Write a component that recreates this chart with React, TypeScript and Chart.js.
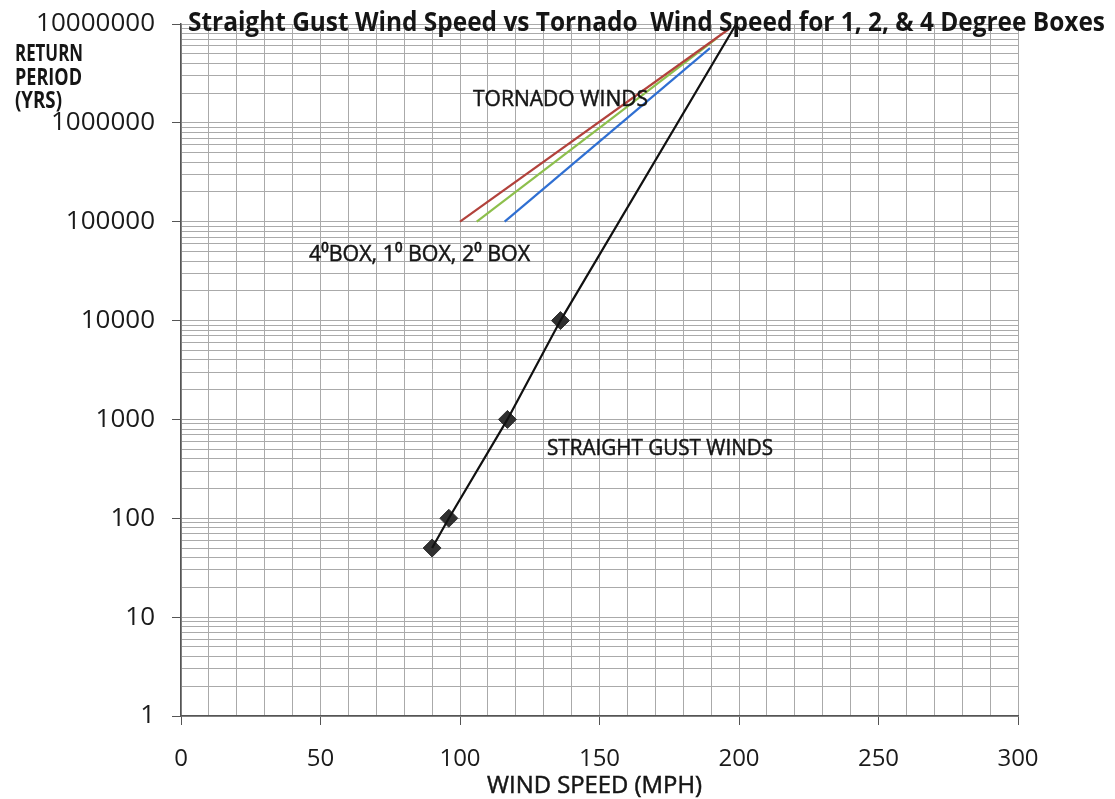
import React, { useEffect, useRef } from "react";
import { Chart, registerables } from "chart.js";

Chart.register(...registerables);

// ---- data ----
const gustSpeeds = [90, 96, 117, 136];
const gustPeriods = [50, 100, 1000, 10000];
const gustLineSpeeds = [90, 96, 117, 136, 199];
const gustLinePeriods = [50, 100, 1000, 10000, 10000000];

const tornado4Speeds = [100, 196.4];
const tornado4Periods = [100000, 8900000];
const tornado1Speeds = [106, 192.1];
const tornado1Periods = [100000, 7200000];
const tornado2Speeds = [116, 189.6];
const tornado2Periods = [100000, 5700000];

const xTickLabels = ["0", "50", "100", "150", "200", "250", "300"];
const yTickValues = [1, 10, 100, 1000, 10000, 100000, 1000000, 10000000];
const yTickLabels = ["1", "10", "100", "1000", "10000", "100000", "1000000", "10000000"];

const titleText = "Straight Gust Wind Speed vs Tornado  Wind Speed for 1, 2, & 4 Degree Boxes";
const yTitleLines = ["RETURN", "PERIOD", "(YRS)"];
const xTitleText = "WIND SPEED (MPH)";
const tornadoLabel = "TORNADO WINDS";
const boxLabel = "4\u2070BOX, 1\u2070 BOX, 2\u2070 BOX";
const gustLabel = "STRAIGHT GUST WINDS";

const FONT = '"Open Sans", "Noto Sans", "DejaVu Sans", sans-serif';

const pts = (xs: number[], ys: number[]) => xs.map((x, i) => ({ x, y: ys[i] }));

function drawFitted(
  ctx: CanvasRenderingContext2D,
  text: string,
  left: number,
  baseline: number,
  cap: number,
  width: number,
  bold: boolean,
  color = "#151515"
) {
  const size = cap / 0.714;
  ctx.save();
  ctx.font = `${bold ? "bold " : ""}${size}px ${FONT}`;
  ctx.fillStyle = color;
  ctx.textBaseline = "alphabetic";
  ctx.textAlign = "left";
  const w = ctx.measureText(text).width;
  ctx.translate(left, baseline);
  ctx.scale(width / w, 1);
  ctx.fillText(text, 0, 0);
  if (!bold) {
    ctx.lineWidth = 0.5;
    ctx.strokeStyle = color;
    ctx.strokeText(text, 0, 0);
  }
  ctx.restore();
}

const textPlugin = {
  id: "textOverlay",
  afterDraw(chart: any) {
    const ctx = chart.ctx as CanvasRenderingContext2D;
    drawFitted(ctx, titleText, 188, 31, 19, 917, true);
    drawFitted(ctx, yTitleLines[0], 15, 61, 16, 68, true);
    drawFitted(ctx, yTitleLines[1], 15, 85, 16, 67, true);
    drawFitted(ctx, yTitleLines[2], 15, 108, 16, 47, true);
    drawFitted(ctx, tornadoLabel, 473, 106, 16, 175, false);
    drawFitted(ctx, boxLabel, 309, 261, 16, 221, false);
    drawFitted(ctx, gustLabel, 547, 455, 16, 226, false);
    drawFitted(ctx, xTitleText, 487, 793, 17, 215, false);
  },
};

export default function App() {
  const ref = useRef<HTMLCanvasElement | null>(null);
  useEffect(() => {
    document.body.style.margin = "0";
    const canvas = ref.current!;
    const gridY: number[] = [];
    for (let e = 0; e < 7; e++) for (let k = 1; k <= 9; k++) gridY.push(k * Math.pow(10, e));
    gridY.push(yTickValues[yTickValues.length - 1]);

    const chart = new Chart(canvas, {
      type: "scatter",
      data: {
        datasets: [
          {
            label: "4 deg box",
            data: pts(tornado4Speeds, tornado4Periods),
            showLine: true,
            borderColor: "#b2423c",
            borderWidth: 2.2,
            pointRadius: 0,
          },
          {
            label: "1 deg box",
            data: pts(tornado1Speeds, tornado1Periods),
            showLine: true,
            borderColor: "#8dbf4c",
            borderWidth: 2.2,
            pointRadius: 0,
          },
          {
            label: "2 deg box",
            data: pts(tornado2Speeds, tornado2Periods),
            showLine: true,
            borderColor: "#2f6fd2",
            borderWidth: 2.2,
            pointRadius: 0,
          },
          {
            label: "gust line",
            data: pts(gustLineSpeeds, gustLinePeriods),
            showLine: true,
            borderColor: "#111111",
            borderWidth: 2.2,
            pointRadius: 0,
          },
          {
            label: "gust points",
            data: pts(gustSpeeds, gustPeriods),
            showLine: false,
            pointStyle: "rectRot",
            pointRadius: 9,
            backgroundColor: "#303030",
            borderColor: "#303030",
            borderWidth: 1,
          },
        ],
      } as any,
      options: {
        animation: false,
        responsive: false,
        devicePixelRatio: 1,
        layout: { padding: { top: 24, right: 97, left: 0, bottom: 0 } },
        plugins: {
          legend: { display: false },
          tooltip: { enabled: false },
          title: { display: false },
        },
        scales: {
          x: {
            type: "linear",
            min: 0,
            max: 300,
            afterFit: (s: any) => {
              s.height = 83;
              s.paddingLeft = 0;
              s.paddingRight = 0;
            },
            ticks: {
              stepSize: 10,
              autoSkip: false,
              maxRotation: 0,
              padding: 20,
              color: "#1a1a1a",
              font: { family: FONT, size: 24 },
              callback: (v: any) => {
                const i = xTickLabels.indexOf(String(v));
                return i >= 0 ? xTickLabels[i] : "";
              },
            },
            grid: {
              color: "#aaaaaa",
              lineWidth: 1,
              tickLength: 9,
              tickColor: (c: any) => (c.tick && c.tick.value % 50 === 0 ? "#555" : "rgba(0,0,0,0)"),
            },
            border: { color: "#555", width: 1.5 },
          },
          y: {
            type: "logarithmic",
            min: 1,
            max: 10000000,
            afterFit: (s: any) => {
              s.width = 181;
              s.paddingTop = 0;
              s.paddingBottom = 0;
            },
            afterBuildTicks: (s: any) => {
              s.ticks = gridY.map((v) => ({ value: v, major: false }));
            },
            ticks: {
              autoSkip: false,
              padding: 17,
              color: "#1a1a1a",
              font: { family: FONT, size: 26 },
              callback: (v: any) => {
                const i = yTickValues.indexOf(Number(v));
                return i >= 0 ? yTickLabels[i] : "";
              },
            },
            grid: {
              color: "#aaaaaa",
              lineWidth: 1,
              tickLength: 9,
              tickColor: (c: any) =>
                c.tick && yTickValues.indexOf(c.tick.value) >= 0 ? "#555" : "rgba(0,0,0,0)",
            },
            border: { color: "#555", width: 1.5 },
          },
        },
      } as any,
      plugins: [textPlugin],
    });
    return () => chart.destroy();
  }, []);
  return (
    <div style={{ width: 1115, height: 799, background: "#fff" }}>
      <canvas ref={ref} width={1115} height={799} style={{ display: "block" }} />
    </div>
  );
}
